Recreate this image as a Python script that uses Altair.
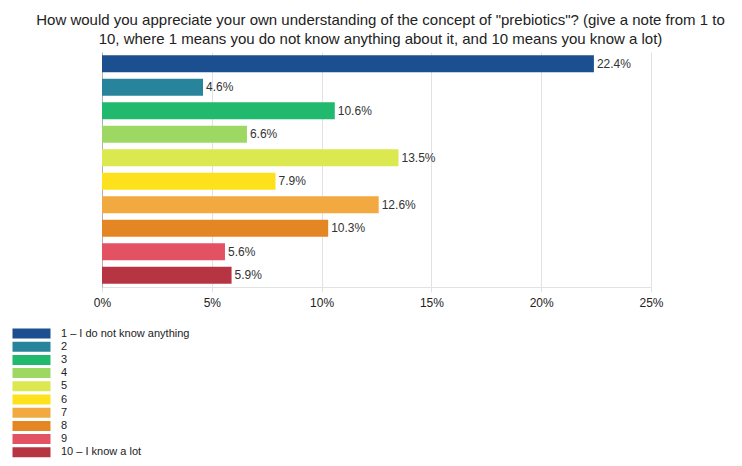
import altair as alt
import pandas as pd

categories = ["1 – I do not know anything", "2", "3", "4", "5", "6", "7", "8", "9", "10 – I know a lot"]
values = [22.4, 4.6, 10.6, 6.6, 13.5, 7.9, 12.6, 10.3, 5.6, 5.9]
colors = ["#1c4f8f", "#27849a", "#20b96d", "#9dd863", "#dbe84f",
          "#fde11d", "#f2a93f", "#e58624", "#e25262", "#b73443"]
x_ticks = [0, 5, 10, 15, 20, 25]
title_lines = [
    'How would you appreciate your own understanding of the concept of "prebiotics"? (give a note from 1 to',
    '10, where 1 means you do not know anything about it, and 10 means you know a lot)',
]

df = pd.DataFrame({"cat": categories, "val": values,
                   "label": [f"{v:.1f}%" for v in values]})

FONT = "Liberation Sans"

base = alt.Chart(df).encode(
    y=alt.Y("cat:N", sort=categories,
            scale=alt.Scale(paddingInner=0.286, paddingOuter=0.143),
            axis=alt.Axis(labels=False, ticks=False, title=None,
                          domainColor="#b0b0b0", grid=False)),
    x=alt.X("val:Q", scale=alt.Scale(domain=[0, 25], nice=False),
            axis=alt.Axis(values=x_ticks, labelExpr="datum.value + '%'", title=None,
                          grid=True, gridColor="#e2e2e2", domainColor="#e2e2e2",
                          tickColor="#e2e2e2", tickSize=5, labelFontSize=12,
                          labelColor="#222", labelFont=FONT, labelPadding=5,
                          labelFlush=False)),
)

bars = base.mark_bar().encode(
    color=alt.Color("cat:N", sort=categories,
                    scale=alt.Scale(domain=categories, range=colors),
                    legend=alt.Legend(orient="none", legendX=-76, legendY=276, title=None,
                                      symbolType="M-3.8,-1H3.8V1H-3.8Z", symbolSize=100,
                                      symbolStrokeWidth=0, symbolOpacity=1,
                                      labelFontSize=11, labelFont=FONT, labelColor="#222",
                                      labelOffset=24, rowPadding=1.2, padding=0)),
)

text = base.mark_text(align="left", dx=3, fontSize=12, font=FONT, color="#333").encode(
    text="label:N")

chart = (bars + text).properties(
    width=549, height=235,
    padding={"left": 94, "top": 44, "right": 83, "bottom": 171},
    autosize="none",
    title=alt.TitleParams(text=title_lines, fontSize=15, font=FONT, fontWeight="normal",
                          color="#222", lineHeight=19, anchor="middle", offset=5, dx=4),
).configure_view(stroke=None)

chart.save("out.html", embed_options={"renderer": "svg", "actions": False})
